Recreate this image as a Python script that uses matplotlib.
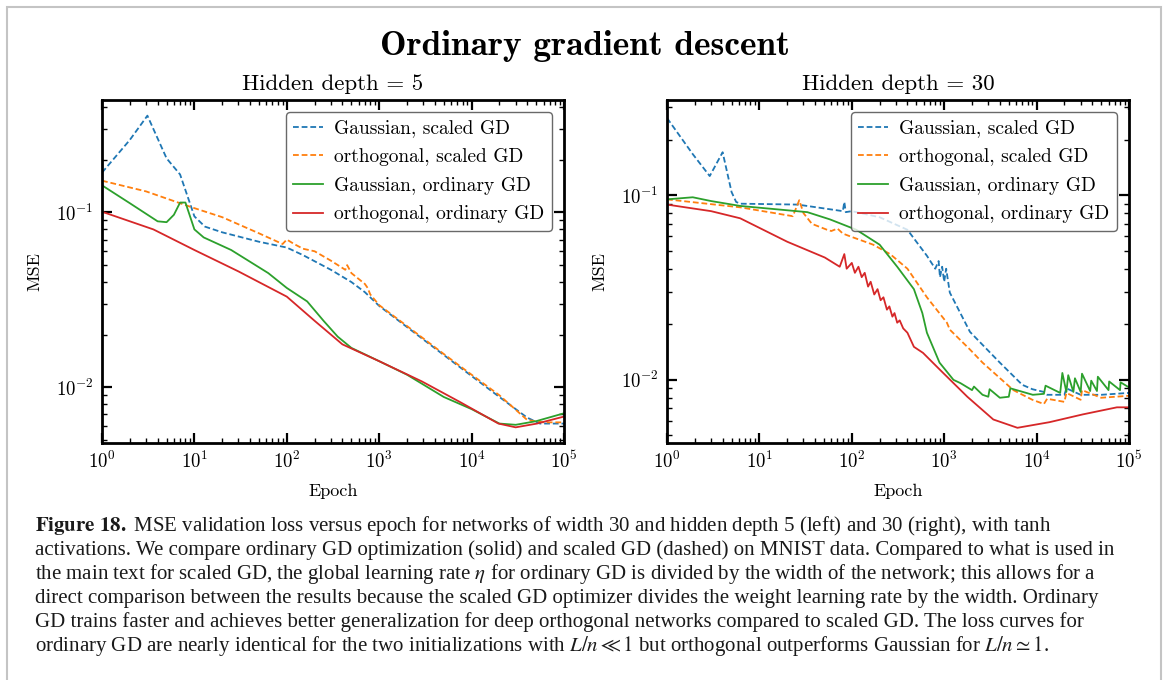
import numpy as np
import matplotlib
matplotlib.use("Agg")
import matplotlib.pyplot as plt
from matplotlib.patches import Rectangle

plt.rcParams['font.family'] = ['cmr10', 'DejaVu Serif']
plt.rcParams['mathtext.fontset'] = 'cm'
plt.rcParams['axes.formatter.use_mathtext'] = True
plt.rcParams['axes.unicode_minus'] = False

labels = ["Gaussian, scaled GD", "orthogonal, scaled GD",
          "Gaussian, ordinary GD", "orthogonal, ordinary GD"]
colors = ["#1f77b4", "#ff7f0e", "#2ca02c", "#d62728"]
styles = [(0, (3.2, 1.6)), (0, (3.2, 1.6)), "-", "-"]

# hidden depth 5
x_gs5 = [1, 2, 3.1, 5, 7, 10, 13, 20, 50, 100, 150, 300, 500, 700, 1000,
         2000, 5000, 10000, 20000, 40000, 55000, 100000]
y_gs5 = [0.169, 0.26, 0.358, 0.204, 0.165, 0.095, 0.083, 0.077, 0.068, 0.063,
         0.057, 0.047, 0.040, 0.035, 0.0292, 0.0221, 0.0153, 0.0116, 0.0088,
         0.0067, 0.0062, 0.0062]
x_os5 = [1, 3, 9.4, 20, 50, 90, 100, 120, 150, 200, 300, 430, 450, 500, 700,
         750, 800, 1000, 2000, 5000, 10000, 20000, 40000, 60000, 100000]
y_os5 = [0.152, 0.132, 0.107, 0.094, 0.076, 0.066, 0.070, 0.066, 0.062,
         0.060, 0.053, 0.047, 0.050, 0.045, 0.039, 0.037, 0.034, 0.0295,
         0.0224, 0.0155, 0.0118, 0.0090, 0.0065, 0.0063, 0.0063]
x_go5 = [1, 2, 4, 5, 6, 7, 8, 10, 12.6, 25, 63, 100, 166, 250, 355, 500,
         1000, 2000, 5000, 10000, 20000, 30000, 50000, 100000]
y_go5 = [0.143, 0.113, 0.089, 0.088, 0.097, 0.114, 0.114, 0.080, 0.072,
         0.061, 0.045, 0.037, 0.031, 0.024, 0.0195, 0.0168, 0.0141, 0.0118,
         0.0088, 0.0075, 0.0062, 0.0061, 0.0064, 0.0071]
x_oo5 = [1, 3.6, 10, 30, 100, 200, 400, 1000, 2900, 7600, 19500, 30000,
         51000, 100000]
y_oo5 = [0.101, 0.080, 0.061, 0.046, 0.033, 0.024, 0.0176, 0.0141, 0.0108,
         0.0082, 0.0062, 0.0059, 0.0062, 0.0068]

# hidden depth 30
x_gs30 = [1, 1.9, 2.9, 4, 5, 5.6, 6.2, 26, 80, 83, 86, 100, 200, 400, 650,
          800, 870, 900, 950, 1000, 1050, 1150, 1900, 4000, 7000, 9000,
          12000, 13000, 20000, 21000, 30000, 50000, 100000]
y_gs30 = [0.262, 0.167, 0.127, 0.171, 0.104, 0.092, 0.090, 0.089, 0.082,
          0.092, 0.081, 0.082, 0.076, 0.065, 0.047, 0.040, 0.044, 0.036,
          0.041, 0.034, 0.040, 0.0297, 0.0182, 0.0124, 0.0094, 0.0089,
          0.0086, 0.0083, 0.0083, 0.0090, 0.0083, 0.0083, 0.0085]
x_os30 = [1, 6.2, 23, 27, 30, 37, 54, 60, 70, 80, 95, 170, 260, 400, 650,
          1070, 1150, 1900, 2600, 5600, 9000, 12000, 13000, 20000, 21000,
          30000, 31000, 50000, 100000]
y_os30 = [0.095, 0.086, 0.077, 0.094, 0.080, 0.070, 0.065, 0.064, 0.066,
          0.062, 0.060, 0.054, 0.048, 0.040, 0.028, 0.0204, 0.0187, 0.0146,
          0.0124, 0.0088, 0.0078, 0.0074, 0.0079, 0.0076, 0.0085, 0.0078,
          0.0088, 0.0080, 0.0082]
x_go30 = [1, 1.9, 3, 6.2, 33, 58, 112, 200, 310, 470, 580, 650, 890, 1260,
          1500, 2000, 2100, 2600, 3000, 3100, 4000, 5000, 5200, 9100, 12000,
          12500, 18000, 19000, 21000, 22000, 25000, 26000, 30000, 31000,
          38000, 39000, 45000, 46000, 60000, 61000, 80000, 81000, 100000]
y_go30 = [0.095, 0.0975, 0.093, 0.0875, 0.081, 0.074, 0.065, 0.054, 0.041,
          0.031, 0.023, 0.018, 0.0124, 0.0100, 0.0096, 0.0088, 0.0092, 0.0083,
          0.0081, 0.0089, 0.0080, 0.0081, 0.0090, 0.0083, 0.0084, 0.0093,
          0.0085, 0.0109, 0.0086, 0.0106, 0.0086, 0.0102, 0.0086, 0.0108,
          0.0087, 0.0099, 0.0087, 0.0104, 0.0088, 0.0098, 0.0088, 0.0097,
          0.0091]
x_oo30 = [1, 3, 6.2, 20, 51, 74, 83, 88, 100, 108, 118, 128, 138, 150, 160,
          175, 190, 205, 220, 240, 255, 275, 290, 310, 330, 360, 400, 470,
          590, 890, 1780, 3400, 6200, 13800, 31600, 74000, 100000]
y_oo30 = [0.089, 0.082, 0.075, 0.056, 0.046, 0.041, 0.048, 0.040, 0.043,
          0.038, 0.041, 0.036, 0.038, 0.032, 0.034, 0.029, 0.031, 0.027,
          0.028, 0.024, 0.025, 0.022, 0.023, 0.0204, 0.021, 0.019, 0.018,
          0.0151, 0.0140, 0.0114, 0.0081, 0.0061, 0.0055, 0.0059, 0.0065,
          0.0071, 0.0071]

panels = [
    ("Hidden depth = 5", [(x_gs5, y_gs5), (x_os5, y_os5), (x_go5, y_go5), (x_oo5, y_oo5)],
     (0.0048, 0.44), 102),
    ("Hidden depth = 30", [(x_gs30, y_gs30), (x_os30, y_os30), (x_go30, y_go30), (x_oo30, y_oo30)],
     (0.00455, 0.328), 667),
]

W, H = 1170, 680
fig = plt.figure(figsize=(W / 100, H / 100), dpi=100)

# page frame
fig.add_artist(Rectangle((7 / W, -0.2), (1161 - 7) / W, 1.2 - 7 / H,
                         transform=fig.transFigure, fill=False,
                         edgecolor="#c4c4c4", lw=1.5, clip_on=False))

fig.text(0.5, 1 - 46 / H, "Ordinary gradient descent", family="cmb10",
         fontsize=25.5, ha="center", va="center")

for title, series, ylim, left in panels:
    ax = fig.add_axes([left / W, 1 - 443 / H, 462 / W, 343 / H])
    for (xs, ys), lab, c, ls in zip(series, labels, colors, styles):
        ax.plot(xs, ys, color=c, ls=ls, lw=1.3, label=lab)
    ax.set_xscale("log")
    ax.set_yscale("log")
    ax.set_xlim(1, 1e5)
    ax.set_ylim(*ylim)
    ax.set_title(title, fontsize=16.5, pad=7)
    ax.set_xlabel("Epoch", fontsize=13)
    ax.set_ylabel("MSE", fontsize=13)
    ax.xaxis.set_label_coords(0.5, -0.12)
    ax.yaxis.set_label_coords(-0.13, 0.5)
    for s in ax.spines.values():
        s.set_linewidth(2)
    ax.tick_params(which="both", direction="in", top=True, right=True)
    ax.tick_params(which="major", length=7, width=1.6, labelsize=13.5, pad=6)
    ax.tick_params(which="minor", length=3.5, width=1)
    leg = ax.legend(loc="upper right", fontsize=14, handlelength=1.5,
                    handletextpad=0.6, borderaxespad=0.6, labelspacing=0.55,
                    fancybox=True)
    leg.get_frame().set_edgecolor("#444444")
    leg.get_frame().set_linewidth(1.0)

caption = [
    r"$\mathbf{Figure\ 18.}$ MSE validation loss versus epoch for networks of width 30 and hidden depth 5 (left) and 30 (right), with tanh",
    "activations. We compare ordinary GD optimization (solid) and scaled GD (dashed) on MNIST data. Compared to what is used in",
    r"the main text for scaled GD, the global learning rate $\eta$ for ordinary GD is divided by the width of the network; this allows for a",
    "direct comparison between the results because the scaled GD optimizer divides the weight learning rate by the width. Ordinary",
    "GD trains faster and achieves better generalization for deep orthogonal networks compared to scaled GD. The loss curves for",
    r"ordinary GD are nearly identical for the two initializations with $L/n \ll 1$ but orthogonal outperforms Gaussian for $L/n \simeq 1$.",
]
for i, line in enumerate(caption):
    fig.text(35 / W, 1 - (531 + 24 * i) / H, line, family="Liberation Serif",
             math_fontfamily="stix", fontsize=15, ha="left", va="baseline",
             color="#1a1a1a")

fig.savefig("out.png", dpi=100)
